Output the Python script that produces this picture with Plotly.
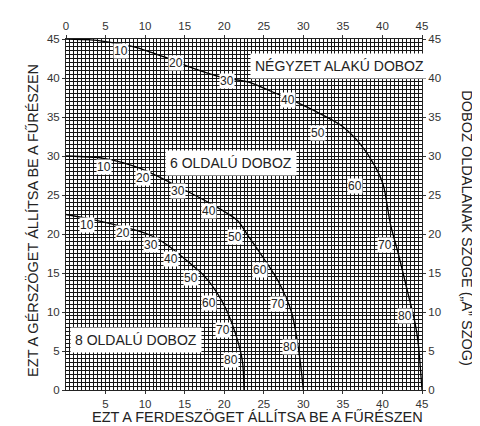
import plotly.graph_objects as go

# curves: bevel (x) vs miter (y)
sq_x = [0, 3.1, 4.8, 8.6, 12.4, 16.2, 20.0, 23.0, 25.9, 28.9, 31.8, 34.8, 37.3, 39.0, 40.1, 41.0, 42.0, 43.2, 44.1, 44.5, 45.0]
sq_y = [45, 44.9, 44.7, 44.0, 42.7, 41.2, 40.0, 39.5, 38.3, 37.0, 35.6, 33.9, 31.4, 28.8, 26.3, 21.3, 17.5, 12.5, 8.7, 6.2, 0]

s6_x = [0, 4.8, 9.4, 14.5, 18.8, 21.7, 23.0, 25.1, 26.8, 28.5, 29.5, 30.0]
s6_y = [30, 29.7, 28.4, 25.9, 23.6, 21.7, 19.8, 16.7, 14.0, 10.0, 4.5, 0]

s8_x = [0, 3.1, 6.5, 10.3, 12.8, 15.6, 17.5, 19.2, 20.4, 21.5, 22.3, 22.5]
s8_y = [22.5, 21.9, 21.1, 20.0, 18.6, 16.3, 14.6, 12.3, 10.0, 7.0, 3.7, 0]

# side angle labels along each curve
angles = ["10", "20", "30", "40", "50", "60", "70", "80"]
sq_lab_x = [6.9, 13.9, 20.4, 28.0, 31.8, 36.5, 40.3, 42.8]
sq_lab_y = [43.4, 41.9, 39.6, 37.2, 33.0, 26.1, 18.6, 9.5]
s6_lab_x = [4.8, 9.7, 14.1, 18.1, 21.3, 24.5, 26.8, 28.3]
s6_lab_y = [28.6, 27.2, 25.5, 23.0, 19.6, 15.4, 11.0, 5.5]
s8_lab_x = [2.7, 7.2, 10.7, 13.3, 15.8, 18.1, 19.8, 20.9]
s8_lab_y = [21.1, 20.1, 18.6, 16.8, 14.4, 11.2, 7.7, 3.9]

box_names = ["NÉGYZET ALAKÚ DOBOZ", "6 OLDALÚ DOBOZ", "8 OLDALÚ DOBOZ"]

bottom_ticks = [5, 10, 15, 20, 25, 30, 35, 40, 45]
all_ticks = [0, 5, 10, 15, 20, 25, 30, 35, 40, 45]

fig = go.Figure()
for xs, ys in [(sq_x, sq_y), (s6_x, s6_y), (s8_x, s8_y)]:
    fig.add_trace(go.Scatter(x=xs, y=ys, mode="lines", line=dict(color="black", width=1.3, shape="spline", smoothing=0.8),
                             hoverinfo="skip", showlegend=False))
# dummy traces so the label axes get drawn
for xa, ya in [("x2", "y2"), ("x3", "y3")]:
    fig.add_trace(go.Scatter(x=[0, 45], y=[0, 45], xaxis=xa, yaxis=ya, mode="markers",
                             marker=dict(opacity=0), hoverinfo="skip", showlegend=False))

lab_font = dict(family="Arial, Liberation Sans, sans-serif", size=12, color="#222")
for lx, ly in [(sq_lab_x, sq_lab_y), (s6_lab_x, s6_lab_y), (s8_lab_x, s8_lab_y)]:
    for t, x, y in zip(angles, lx, ly):
        fig.add_annotation(x=x, y=y, text=t, showarrow=False, bgcolor="white", borderpad=0, font=lab_font)

box_font = dict(family="Arial, Liberation Sans, sans-serif", size=14, color="#222")
for name, x, y in zip(box_names, [34.6, 20.8, 8.86], [41.5, 29.1, 6.4]):
    fig.add_annotation(x=x, y=y, text=name, showarrow=False, bgcolor="white", borderpad=4, font=box_font)

# axis titles
title_font = dict(family="Arial, Liberation Sans, sans-serif", size=14.5, color="#222")
fig.add_annotation(xref="paper", yref="paper", x=0.537, y=-0.105, text="EZT A FERDESZÖGET ÁLLÍTSA BE A FŰRÉSZEN",
                   showarrow=False, font=title_font)
fig.add_annotation(xref="paper", yref="paper", x=-0.122, y=0.482, text="EZT A GÉRSZÖGET ÁLLÍTSA BE A FŰRÉSZEN",
                   showarrow=False, textangle=-90, font=title_font)
fig.add_annotation(xref="paper", yref="paper", x=1.155, y=0.46, text="DOBOZ OLDALANAK SZOGE („A” SZOG)",
                   showarrow=False, textangle=90, font=title_font)

tick_font = dict(family="Arial, Liberation Sans, sans-serif", size=11.5, color="#333")
# fine 0.5 grid on the base axes, labels on overlaid axes
grid_ax = dict(range=[0, 45], tick0=0, dtick=0.5, showticklabels=False, ticks="", showgrid=True,
               gridcolor="#151515", gridwidth=1, showline=True, linecolor="#222", zeroline=False)
lab_ax = dict(range=[0, 45], ticks="outside", ticklen=3, tickcolor="#333", tickfont=tick_font,
              showgrid=False, zeroline=False, showline=False)

fig.update_layout(
    width=480, height=426,
    margin=dict(l=58, r=66, t=25, b=44),
    plot_bgcolor="white", paper_bgcolor="white",
    xaxis=dict(mirror=True, **grid_ax),
    yaxis=dict(mirror=True, **grid_ax),
    xaxis2=dict(overlaying="x", side="top", tickvals=all_ticks, **lab_ax),
    yaxis2=dict(overlaying="y", side="right", tickvals=all_ticks, **lab_ax),
    xaxis3=dict(overlaying="x", side="bottom", tickvals=bottom_ticks, **lab_ax),
    yaxis3=dict(overlaying="y", side="left", tickvals=all_ticks, **lab_ax),
)

fig.write_html("out.html")
